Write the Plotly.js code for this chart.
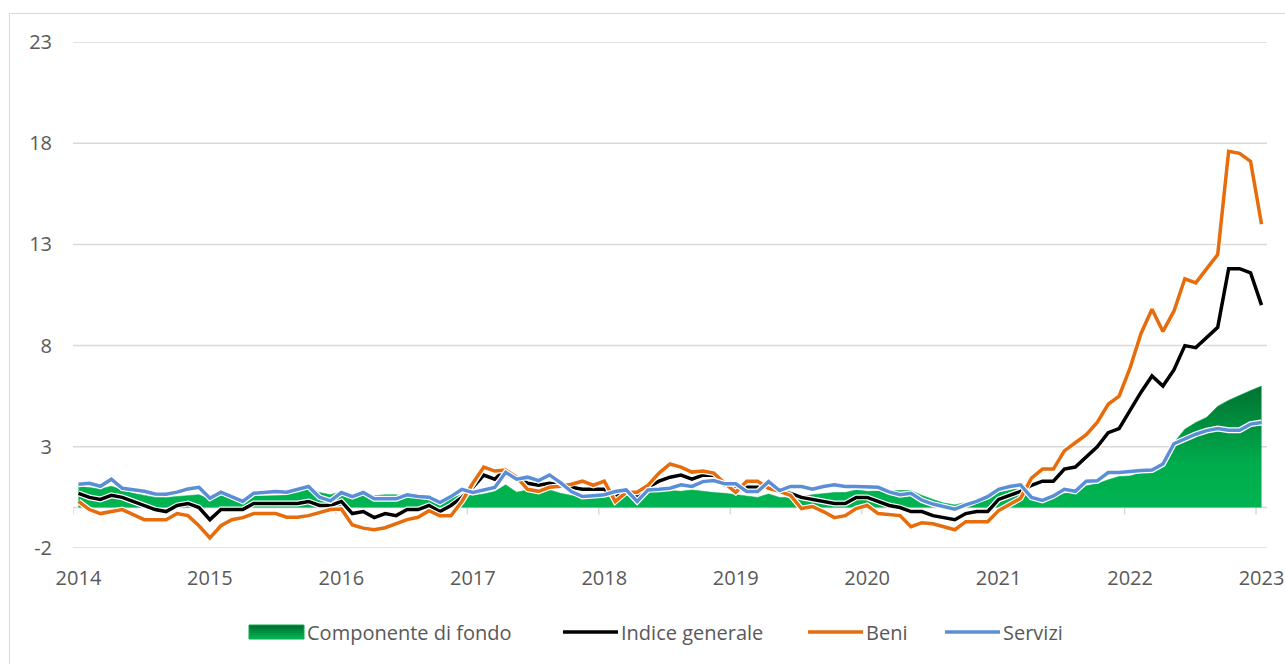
<!DOCTYPE html>
<html>
<head>
<meta charset="utf-8">
<script src="https://cdn.plot.ly/plotly-3.0.1.min.js"></script>
<style>
  html, body { margin: 0; padding: 0; background: #ffffff; overflow: hidden; }
  #chart { width: 1285px; height: 664px; }
  #frame {
    position: absolute; left: 9px; top: 13px; width: 1400px; height: 800px;
    border: 1.5px solid #d9d9d9; pointer-events: none;
  }
</style>
</head>
<body>
<div id="chart"></div>
<div id="frame"></div>
<script>
// Monthly year-on-year inflation rates (%), January 2014 - January 2023
const years = ['2014','2015','2016','2017','2018','2019','2020','2021','2022','2023'];

const months = [];
years.forEach(function (y, k) {
  const last = (k === years.length - 1) ? 1 : 12;
  for (let m = 1; m <= last; m++) months.push(y + '-' + String(m).padStart(2, '0'));
});

const componenteDiFondo = [
  1.05, 1.0, 0.92, 1.05, 0.87, 0.7, 0.6, 0.5, 0.5, 0.55, 0.58, 0.63,
  0.4, 0.6, 0.5, 0.3, 0.62, 0.68, 0.84, 0.84, 0.87, 0.9, 0.74, 0.63,
  0.79, 0.66, 0.7, 0.58, 0.63, 0.63, 0.54, 0.51, 0.46, 0.21, 0.46, 0.63,
  0.6, 0.67, 0.79, 1.12, 0.76, 0.87, 0.95, 0.87, 0.7, 0.6, 0.55, 0.5,
  0.54, 0.58, 0.67, 0.7, 0.79, 0.79, 0.84, 0.8, 0.87, 0.8, 0.74, 0.7,
  0.63, 0.54, 0.5, 0.67, 0.5, 0.5, 0.54, 0.63, 0.7, 0.74, 0.74, 0.87,
  0.8, 0.82, 0.84, 0.84, 0.84, 0.6, 0.4, 0.22, 0.13, 0.25, 0.41, 0.58,
  0.82, 0.92, 0.9, 0.38, 0.3, 0.5, 0.7, 0.74, 1.07, 1.17, 1.37, 1.53,
  1.56, 1.72, 1.86, 2.3, 3.2, 3.87, 4.2, 4.46, 5.0, 5.3, 5.56, 5.78,
  6.0
];

const indiceGenerale = [
  0.7, 0.5, 0.4, 0.6, 0.5, 0.3, 0.1, -0.1, -0.2, 0.1, 0.2, 0.0,
  -0.6, -0.1, -0.1, -0.1, 0.2, 0.2, 0.2, 0.2, 0.2, 0.3, 0.1, 0.1,
  0.3, -0.3, -0.2, -0.5, -0.3, -0.4, -0.1, -0.1, 0.1, -0.2, 0.1, 0.5,
  1.0, 1.6, 1.4, 1.9, 1.4, 1.2, 1.1, 1.2, 1.1, 1.0, 0.9, 0.9,
  0.9, 0.5, 0.8, 0.5, 1.0, 1.3, 1.5, 1.6, 1.4, 1.6, 1.6, 1.1,
  0.9, 1.0, 1.0, 1.0, 0.8, 0.7, 0.5, 0.4, 0.3, 0.2, 0.2, 0.5,
  0.5, 0.3, 0.1, 0.0, -0.2, -0.2, -0.4, -0.5, -0.6, -0.3, -0.2, -0.2,
  0.4, 0.6, 0.8, 1.1, 1.3, 1.3, 1.9, 2.0, 2.5, 3.0, 3.7, 3.9,
  4.8, 5.7, 6.5, 6.0, 6.8, 8.0, 7.9, 8.4, 8.9, 11.8, 11.8, 11.6,
  10.0
];

const beni = [
  0.3, -0.1, -0.3, -0.2, -0.1, -0.35, -0.6, -0.6, -0.6, -0.3, -0.4, -0.9,
  -1.5, -0.9, -0.6, -0.5, -0.3, -0.3, -0.3, -0.48, -0.48, -0.4, -0.25, -0.1,
  -0.07, -0.86, -1.02, -1.1, -1.0, -0.8, -0.6, -0.48, -0.16, -0.41, -0.41, 0.3,
  1.2, 2.0, 1.8, 1.85, 1.5, 0.9, 0.8, 1.0, 1.05, 1.15, 1.3, 1.1,
  1.3, 0.3, 0.75, 0.75, 1.1, 1.7, 2.15, 2.0, 1.75, 1.8, 1.7, 1.2,
  0.75, 1.3, 1.3, 0.95, 0.8, 0.6, -0.05, 0.05, -0.2, -0.5, -0.4, -0.05,
  0.1, -0.3, -0.35, -0.4, -0.95, -0.75, -0.8, -0.95, -1.1, -0.7, -0.7, -0.7,
  -0.15, 0.15, 0.45, 1.45, 1.9, 1.9, 2.8, 3.2, 3.6, 4.2, 5.1, 5.5,
  6.9, 8.6, 9.8, 8.7, 9.7, 11.3, 11.1, 11.8, 12.5, 17.6, 17.5, 17.1,
  14.0
];

const servizi = [
  1.15, 1.2, 1.05, 1.4, 0.95, 0.87, 0.8, 0.67, 0.66, 0.76, 0.92, 1.0,
  0.46, 0.76, 0.51, 0.3, 0.71, 0.74, 0.79, 0.76, 0.9, 1.04, 0.51, 0.33,
  0.74, 0.54, 0.74, 0.43, 0.43, 0.43, 0.63, 0.54, 0.51, 0.25, 0.54, 0.9,
  0.74, 0.87, 0.99, 1.74, 1.4, 1.5, 1.33, 1.61, 1.23, 0.79, 0.54, 0.58,
  0.63, 0.79, 0.87, 0.3, 0.87, 0.9, 0.95, 1.12, 1.04, 1.28, 1.33, 1.17,
  1.17, 0.79, 0.79, 1.28, 0.84, 1.04, 1.04, 0.9, 1.04, 1.12, 1.04, 1.04,
  1.04, 1.0, 0.77, 0.63, 0.7, 0.36, 0.17, 0.03, -0.08, 0.13, 0.3, 0.54,
  0.9, 1.04, 1.12, 0.5, 0.35, 0.57, 0.9, 0.8, 1.3, 1.32, 1.73, 1.73,
  1.8, 1.83, 1.85, 2.15, 3.15, 3.4, 3.62, 3.8, 3.9, 3.82, 3.82, 4.12,
  4.2
];

const seriesNames = ['Componente di fondo', 'Indice generale', 'Beni', 'Servizi'];
const yTicks = [-2, 3, 8, 13, 18, 23];

// styling
const FONT = 'Open Sans, Noto Sans, sans-serif';
const TEXT = '#595959';
const GRID = '#d9d9d9';
const GREEN_LIGHT = '#00B451';
const GREEN_DARK = '#00702F';
const lineColors = { gen: '#000000', beni: '#E66C0C', serv: '#5B8ED6' };
const LW = 3.5;

const W = 1285, H = 664;
const M = { l: 73, r: 18, t: 42, b: 116 };
const plotW = W - M.l - M.r, plotH = H - M.t - M.b;
const px = function (x) { return (x - M.l) / plotW; };
const py = function (y) { return (H - M.b - y) / plotH; };

function lineWithHalo(y, color, name) {
  return [
    { type: 'scatter', mode: 'lines', x: months, y: y, hoverinfo: 'skip', showlegend: false,
      line: { color: '#ffffff', width: LW + 2.4 } },
    { type: 'scatter', mode: 'lines', x: months, y: y, name: name, showlegend: false,
      line: { color: color, width: LW } }
  ];
}

const traces = [
  { type: 'scatter', mode: 'lines', x: months, y: componenteDiFondo, name: seriesNames[0],
    showlegend: false, fill: 'tozeroy',
    line: { color: '#00B050', width: 0.6 },
    fillgradient: { type: 'vertical', start: 0, stop: 6.2,
      colorscale: [[0, GREEN_LIGHT], [0.35, '#00AC4D'], [1, GREEN_DARK]] } }
].concat(
  lineWithHalo(indiceGenerale, lineColors.gen, seriesNames[1]),
  lineWithHalo(beni, lineColors.beni, seriesNames[2]),
  lineWithHalo(servizi, lineColors.serv, seriesNames[3])
);

const shapes = [];

// horizontal gridlines, including the ones on the range edges
yTicks.forEach(function (v) {
  shapes.push({ type: 'line', xref: 'paper', yref: 'y', x0: 0, x1: 1, y0: v, y1: v,
    line: { color: GRID, width: 1.5 }, layer: 'below' });
});
// zero line
shapes.push({ type: 'line', xref: 'paper', yref: 'y', x0: 0, x1: 1, y0: 0, y1: 0,
  line: { color: GRID, width: 1.5 }, layer: 'below' });

// year tick marks on the zero line, at the boundaries between years
years.forEach(function (y, k) {
  shapes.push({ type: 'line', xref: 'x', yref: 'y', x0: -0.5 + 12 * k, x1: -0.5 + 12 * k,
    y0: 0, y1: -0.34, line: { color: GRID, width: 1.5 }, layer: 'below' });
});

// legend row
const legendY = 632;
const keyX = [249, 563, 808, 945];
const keyLen = 55;
const annotations = [];
// gradient swatch for the area series
const swH = 14, slices = 7;
for (let s = 0; s < slices; s++) {
  const t = s / (slices - 1);
  const g = Math.round(0x70 + (0xB4 - 0x70) * t), b = Math.round(0x2F + (0x51 - 0x2F) * t);
  shapes.push({ type: 'rect', xref: 'paper', yref: 'paper',
    x0: px(keyX[0]), x1: px(keyX[0] + keyLen),
    y0: py(legendY - swH / 2 + (s + 1) * swH / slices), y1: py(legendY - swH / 2 + s * swH / slices),
    line: { width: 0 }, fillcolor: 'rgb(0,' + g + ',' + b + ')' });
}
shapes.push({ type: 'rect', xref: 'paper', yref: 'paper',
  x0: px(keyX[0]), x1: px(keyX[0] + keyLen), y0: py(legendY + swH / 2), y1: py(legendY - swH / 2),
  line: { width: 1, color: '#00B050' }, fillcolor: 'rgba(0,0,0,0)' });
[lineColors.gen, lineColors.beni, lineColors.serv].forEach(function (c, k) {
  shapes.push({ type: 'line', xref: 'paper', yref: 'paper',
    x0: px(keyX[k + 1]), x1: px(keyX[k + 1] + keyLen), y0: py(legendY), y1: py(legendY),
    line: { color: c, width: LW } });
});
seriesNames.forEach(function (n, k) {
  annotations.push({ xref: 'paper', yref: 'paper', x: px(keyX[k] + keyLen + 1), y: py(legendY),
    xanchor: 'left', yanchor: 'middle', showarrow: false, text: n,
    font: { family: FONT, size: 20, color: TEXT } });
});

const yearTickVals = months.filter(function (m) { return m.slice(5) === '01'; });
const yearTickText = yearTickVals.map(function (m) { return m.slice(0, 4); });

const layout = {
  width: W, height: H,
  margin: M,
  paper_bgcolor: '#ffffff', plot_bgcolor: '#ffffff',
  showlegend: false,
  font: { family: FONT, size: 20, color: TEXT },
  xaxis: {
    type: 'category', range: [-0.5, months.length - 0.5],
    tickmode: 'array', tickvals: yearTickVals, ticktext: yearTickText,
    showgrid: false, zeroline: false, showline: false, ticks: '',
    tickfont: { family: FONT, size: 20, color: TEXT }, ticklabelstandoff: 16
  },
  yaxis: {
    range: [yTicks[0], yTicks[yTicks.length - 1]],
    tickmode: 'array', tickvals: yTicks, ticktext: yTicks.map(String),
    showgrid: false, zeroline: false,
    showline: false, ticks: '',
    tickfont: { family: FONT, size: 20, color: TEXT }, ticklabelstandoff: 20
  },
  shapes: shapes,
  annotations: annotations
};

Plotly.newPlot('chart', traces, layout, { staticPlot: true, displayModeBar: false });
</script>
</body>
</html>
